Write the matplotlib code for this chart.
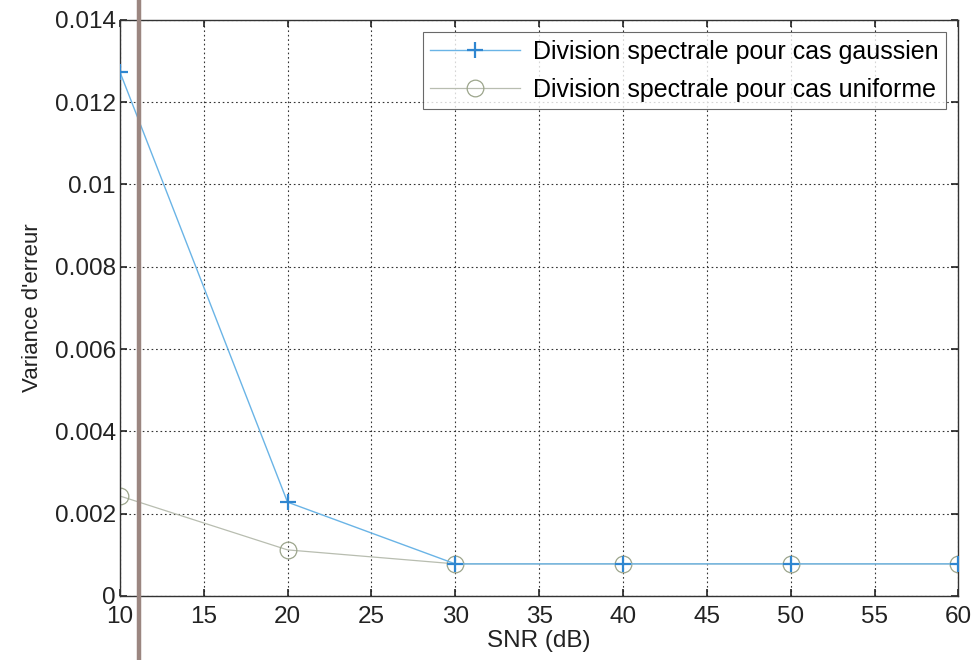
import matplotlib
matplotlib.use("Agg")
import matplotlib.pyplot as plt
from matplotlib.lines import Line2D

plt.rcParams['font.family'] = ['Liberation Sans', 'DejaVu Sans']

snr_db = [10, 20, 30, 40, 50, 60]
var_gauss = [0.01274, 0.00228, 0.00078, 0.00078, 0.00078, 0.00078]
var_unif = [0.00243, 0.00112, 0.00078, 0.00078, 0.00078, 0.00078]
x_ticks = [10, 15, 20, 25, 30, 35, 40, 45, 50, 55, 60]
y_ticks = [0, 0.002, 0.004, 0.006, 0.008, 0.01, 0.012, 0.014]
y_tick_labels = ['0', '0.002', '0.004', '0.006', '0.008', '0.01', '0.012', '0.014']

fig = plt.figure(figsize=(9.74, 6.6), dpi=100)
ax = fig.add_axes([0.123, 0.097, 0.861, 0.873])

ax.plot(snr_db, var_gauss, color='#6ab4e6', lw=1.0, marker='+', ms=11,
        mew=1.6, mec='#2f86d0', label='Division spectrale pour cas gaussien', zorder=3)
ax.plot(snr_db, var_unif, color='#b8bdb0', lw=0.9, marker='o', ms=12,
        mfc='none', mec='#9ca58c', mew=0.9, label='Division spectrale pour cas uniforme', zorder=2)

ax.set_xlim(10, 60)
ax.set_ylim(0, 0.014)
ax.set_xticks(x_ticks)
ax.set_yticks(y_ticks)
ax.set_yticklabels(y_tick_labels)
ax.tick_params(direction='in', labelsize=17.5, length=5, width=1.2, colors='#222222',
               top=True, right=True)
ax.tick_params(axis='x', pad=7)
ax.tick_params(axis='y', pad=3)
ax.grid(True, color='#333333', linestyle=(0, (1.5, 2.5)), linewidth=0.8)
for s in ax.spines.values():
    s.set_color('#333333')
    s.set_linewidth(1.0)

ax.set_xlabel('SNR (dB)', fontsize=17.5, labelpad=2, color='#222222')
ax.set_ylabel("Variance d'erreur", fontsize=16, labelpad=8, color='#222222')

leg = ax.legend(loc='upper right', fontsize=18, frameon=True, fancybox=False,
                edgecolor='#444444', borderaxespad=0.5, handlelength=3.6,
                borderpad=0.3, labelspacing=0.55, handletextpad=0.5)
leg.get_frame().set_linewidth(0.8)

# vertical rule across the page
fig.add_artist(Line2D([0.1427, 0.1427], [0, 1], transform=fig.transFigure,
                      color='#9b8680', lw=3.2, zorder=10))

fig.savefig('out.png', dpi=100)
